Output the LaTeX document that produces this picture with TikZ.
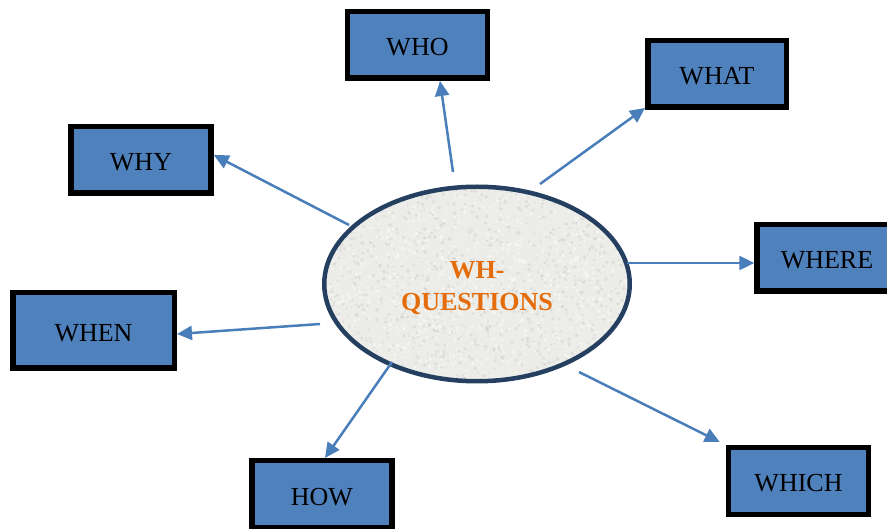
\documentclass[tikz,border=0pt]{standalone}
\usepackage{fontspec}
\setmainfont{Liberation Serif}
\usetikzlibrary{arrows.meta,shapes.geometric,calc}

\definecolor{boxblue}{HTML}{4F81BD}
\definecolor{arrowblue}{HTML}{4A7EBB}
\definecolor{rimnavy}{HTML}{243F60}
\definecolor{titleorange}{HTML}{E46C0A}
\definecolor{stone}{HTML}{ECECE9}

\begin{document}
\begin{tikzpicture}[x=1pt,y=-1pt,
  wbox/.style={draw=black, line width=5.5pt, fill=boxblue,
    minimum width=140pt, minimum height=66.5pt, inner sep=0pt,
    text height=22pt, text depth=0pt,
    font=\fontsize{26}{30}\selectfont},
  link/.style={draw=arrowblue, line width=2.5pt,
    -{Triangle[length=15pt,width=14pt]}},
  granite/.style={path picture={
      \pgfmathsetseed{4242}
      \foreach \k in {1,...,2600}{
        \pgfmathsetmacro{\px}{160*rand}
        \pgfmathsetmacro{\py}{102*rand}
        \pgfmathsetmacro{\pr}{0.6+1.4*rnd}
        \ifodd\k \def\speck{white}\else\def\speck{gray!40}\fi
        \fill[\speck, opacity=0.45]
          ([shift={(\px,\py)}]path picture bounding box.center) circle (\pr pt);
      }}},
]
\useasboundingbox (0,0) rectangle (887,529);
\clip (0,0) rectangle (887,529);

% central ellipse
\node[ellipse, draw=rimnavy, line width=4.5pt, fill=stone, granite,
  minimum width=305.5pt, minimum height=194.5pt, inner sep=0pt,
  text=titleorange,
  font=\fontsize{26}{32}\selectfont\bfseries] (core) at (477,284)
  {\raisebox{-4pt}[\height][\depth]{\begin{tabular}{@{}c@{}}WH-\\QUESTIONS\end{tabular}}};

% question-word boxes
\node[wbox] (who) at (417.5,45) {WHO};
\node[wbox, minimum width=138.5pt] (what) at (717,74) {WHAT};
\node[wbox] (why) at (141,160) {WHY};
\node[wbox] (where) at (827,258) {WHERE};
\node[wbox, minimum width=161.5pt, minimum height=75.5pt] (when) at (93.5,330.5) {WHEN};
\node[wbox] (how) at (322,494) {HOW};
\node[wbox] (which) at (798.5,481) {WHICH};

% arrow tails around the ellipse
\coordinate (t-who) at (453,172);
\coordinate (t-what) at (540,184);
\coordinate (t-why) at (349,225);
\coordinate (t-where) at (627,263);
\coordinate (t-when) at (320,324);
\coordinate (t-how) at (392,362);
\coordinate (t-which) at (579,372);

% arrows
\draw[link] (t-who) -- ([xshift=22.5pt]who.south);
\draw[link] (t-what) -- ([yshift=2pt]what.south west);
\draw[link] (t-why) -- ([yshift=5pt]why.east);
\draw[link] (t-where) -- (t-where -| where.west);
\draw[link] (t-when) -- ([yshift=-3.5pt]when.east);
\draw[link] (t-how) -- ([xshift=3pt]how.north);
\draw[link] (t-which) -- ([shift={(-6pt,3pt)}]which.north west);
\end{tikzpicture}
\end{document}
